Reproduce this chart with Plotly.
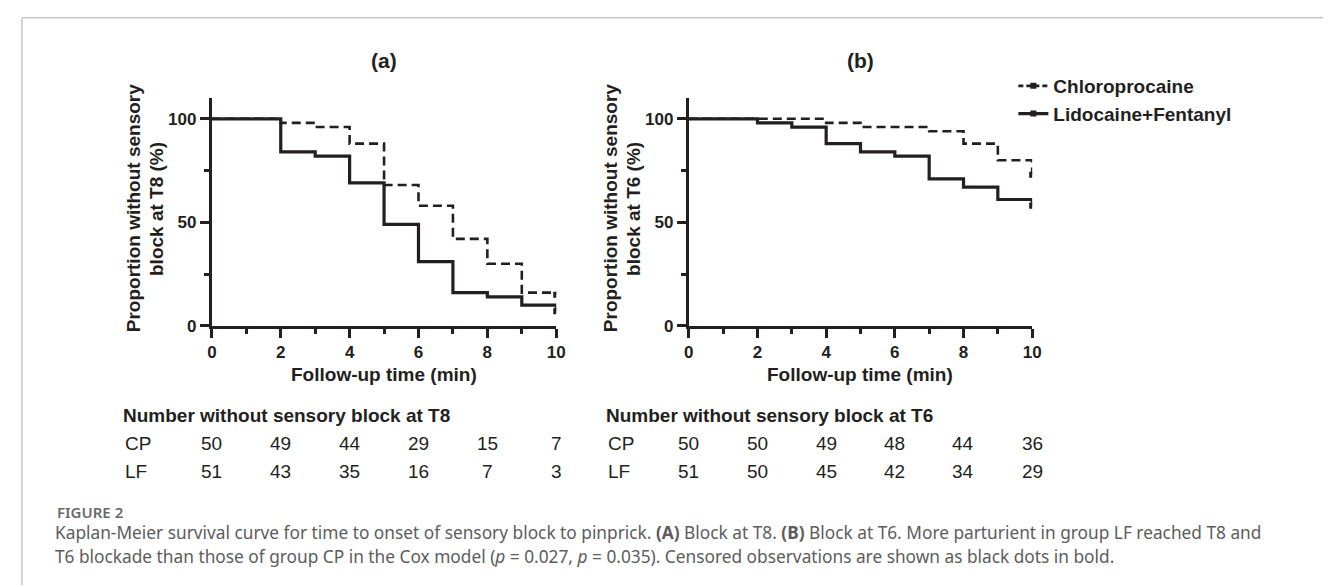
import plotly.graph_objects as go

# ---------------- data ----------------
time_min = [0, 1, 2, 3, 4, 5, 6, 7, 8, 9, 10]
# survival (%) for each interval starting at time_min[i]; last value = level reached at 10 min
a_cp = [100, 100, 98, 96, 88, 68, 58, 42, 30, 16, 15]
a_lf = [100, 100, 84, 82, 69, 49, 31, 16, 14, 10, 7]
b_cp = [100, 100, 100, 100, 98, 96, 96, 94, 88, 80, 73]
b_lf = [100, 100, 98, 96, 88, 84, 82, 71, 67, 61, 58]
censor_time = [10]
a_cp_censor = [15]
a_lf_censor = [7]
b_cp_censor = [73]
b_lf_censor = [58]

risk_times = [0, 2, 4, 6, 8, 10]
a_risk_cp = [50, 49, 44, 29, 15, 7]
a_risk_lf = [51, 43, 35, 16, 7, 3]
b_risk_cp = [50, 50, 49, 48, 44, 36]
b_risk_lf = [51, 50, 45, 42, 34, 29]

series_names = ["Chloroprocaine", "Lidocaine+Fentanyl"]
group_labels = ["CP", "LF"]
panel_titles = ["(a)", "(b)"]
y_titles = [["Proportion without sensory", "block at T8 (%)"],
            ["Proportion without sensory", "block at T6 (%)"]]
x_title = "Follow-up time (min)"
risk_titles = ["Number without sensory block at T8", "Number without sensory block at T6"]
y_tickvals = [0, 50, 100]

caption_head = "FIGURE 2"
caption_1 = ("Kaplan-Meier survival curve for time to onset of sensory block to pinprick. "
             "<b>(A)</b> Block at T8. <b>(B)</b> Block at T6. More parturient in group LF reached T8 and")
caption_2 = ("T6 blockade than those of group CP in the Cox model (<i>p</i> = 0.027, <i>p</i> = 0.035). "
             "Censored observations are shown as black dots in bold.")

# ---------------- styling ----------------
W, H = 1331, 587
INK = "#231f20"
FONT = "Liberation Sans, Arial, sans-serif"
CAP_FONT = "Noto Sans, Open Sans, sans-serif"


def px(x):
    return x / W


def py(y):
    return 1 - y / H


fig = go.Figure()

panels = [
    dict(cp=a_cp, lf=a_lf, cpc=a_cp_censor, lfc=a_lf_censor, xa="x", ya="y"),
    dict(cp=b_cp, lf=b_lf, cpc=b_cp_censor, lfc=b_lf_censor, xa="x2", ya="y2"),
]

for p in panels:
    fig.add_trace(go.Scatter(x=time_min, y=p["cp"], mode="lines", line_shape="hv",
                             line=dict(color=INK, width=2.6, dash="9px,5px"),
                             xaxis=p["xa"], yaxis=p["ya"], showlegend=False, hoverinfo="skip"))
    fig.add_trace(go.Scatter(x=time_min, y=p["lf"], mode="lines", line_shape="hv",
                             line=dict(color=INK, width=3.2),
                             xaxis=p["xa"], yaxis=p["ya"], showlegend=False, hoverinfo="skip"))
    fig.add_trace(go.Scatter(x=censor_time * 2, y=p["cpc"] + p["lfc"], mode="markers",
                             marker=dict(symbol="square", size=6, color=INK),
                             xaxis=p["xa"], yaxis=p["ya"], showlegend=False, hoverinfo="skip"))

# legend-only traces
fig.add_trace(go.Scatter(x=[None], y=[None], mode="lines+markers", name=series_names[0],
                         line=dict(color=INK, width=2.6, dash="5px,3px"),
                         marker=dict(symbol="square", size=6, color=INK), xaxis="x2", yaxis="y2"))
fig.add_trace(go.Scatter(x=[None], y=[None], mode="lines+markers", name=series_names[1],
                         line=dict(color=INK, width=3.2),
                         marker=dict(symbol="square", size=6, color=INK), xaxis="x2", yaxis="y2"))

tickfont = dict(family=FONT, size=17, color=INK, weight="bold")
xcommon = dict(range=[0, 10], autorange=False, showline=True, linewidth=3, linecolor=INK,
               ticks="outside", ticklen=9, tickwidth=3, tickcolor=INK, tick0=0, dtick=2,
               minor=dict(ticks="outside", dtick=1, tick0=0, ticklen=5, tickwidth=2.5, tickcolor=INK),
               showgrid=False, zeroline=False, tickfont=tickfont, fixedrange=True)
ycommon = dict(range=[0, 110], autorange=False, showline=True, linewidth=3, linecolor=INK,
               ticks="outside", ticklen=9, tickwidth=3, tickcolor=INK, tickmode="array",
               tickvals=y_tickvals,
               minor=dict(ticks="outside", dtick=25, tick0=0, ticklen=5, tickwidth=2.5, tickcolor=INK),
               showgrid=False, zeroline=False, tickfont=tickfont, fixedrange=True)

y_dom = [py(323.3), py(323.3 - 110 * 2.106)]

fig.update_layout(
    width=W, height=H,
    margin=dict(l=0, r=0, t=0, b=0),
    paper_bgcolor="white", plot_bgcolor="white",
    xaxis=dict(domain=[px(201), px(549)], anchor="y", **xcommon),
    yaxis=dict(domain=y_dom, anchor="x", **ycommon),
    xaxis2=dict(domain=[px(683), px(1030)], anchor="y2", **xcommon),
    yaxis2=dict(domain=y_dom, anchor="x2", **ycommon),
    showlegend=True,
    legend=dict(x=px(1011), y=py(60), xanchor="left", yanchor="top",
                font=dict(family=FONT, size=19, color=INK, weight="bold"),
                bgcolor="rgba(0,0,0,0)", itemwidth=30, tracegroupgap=0),
)

ann = []
centers = [375, 856.5]
ylab_x = [(122, 145), (604, 627)]
risk_left = [109, 597]
xrefs = ["x", "x2"]
risk_sets = [(a_risk_cp, a_risk_lf), (b_risk_cp, b_risk_lf)]
for i in range(2):
    ann.append(dict(text=panel_titles[i], x=px(centers[i]), y=py(53), xref="paper", yref="paper",
                    xanchor="center", yanchor="middle", showarrow=False,
                    font=dict(family=FONT, size=21, color=INK, weight="bold")))
    ann.append(dict(text=x_title, x=px(centers[i]), y=py(373), xref="paper", yref="paper",
                    xanchor="center", yanchor="middle", showarrow=False,
                    font=dict(family=FONT, size=19, color=INK, weight="bold")))
    for j in range(2):
        ann.append(dict(text=y_titles[i][j], x=px(ylab_x[i][j]), y=py(204), xref="paper", yref="paper",
                        xanchor="center", yanchor="middle", textangle=-90, showarrow=False,
                        font=dict(family=FONT, size=19, color=INK, weight="bold")))
    ann.append(dict(text=risk_titles[i], x=px(risk_left[i]), y=py(415), xref="paper", yref="paper",
                    xanchor="left", yanchor="middle", showarrow=False,
                    font=dict(family=FONT, size=19, color=INK, weight="bold")))
    for j, row_y in enumerate([443, 472]):
        ann.append(dict(text=group_labels[j], x=px(risk_left[i] + 2), y=py(row_y), xref="paper",
                        yref="paper", xanchor="left", yanchor="middle", showarrow=False,
                        font=dict(family=FONT, size=19, color=INK)))
        for t, v in zip(risk_times, risk_sets[i][j]):
            ann.append(dict(text=str(v), x=t, y=py(row_y), xref=xrefs[i], yref="paper",
                            xanchor="center", yanchor="middle", showarrow=False,
                            font=dict(family=FONT, size=19, color=INK)))

ann.append(dict(text=caption_head, x=px(42), y=py(513), xref="paper", yref="paper",
                xanchor="left", yanchor="middle", showarrow=False,
                font=dict(family=CAP_FONT, size=15, color="#6a6a6a", weight=600)))
ann.append(dict(text=caption_1, x=px(40), y=py(534), xref="paper", yref="paper",
                xanchor="left", yanchor="middle", showarrow=False,
                font=dict(family=CAP_FONT, size=17.3, color="#5c5c5c")))
ann.append(dict(text=caption_2, x=px(40), y=py(558), xref="paper", yref="paper",
                xanchor="left", yanchor="middle", showarrow=False,
                font=dict(family=CAP_FONT, size=17.3, color="#5c5c5c")))

fig.update_layout(annotations=ann)

fig.update_layout(shapes=[
    dict(type="line", xref="paper", yref="paper", x0=px(9), x1=1, y0=py(10), y1=py(10),
         line=dict(color="#c6c6c6", width=1.5)),
    dict(type="line", xref="paper", yref="paper", x0=px(9), x1=px(9), y0=py(10), y1=0,
         line=dict(color="#c6c6c6", width=1.5)),
])

fig.write_html("out.html")
